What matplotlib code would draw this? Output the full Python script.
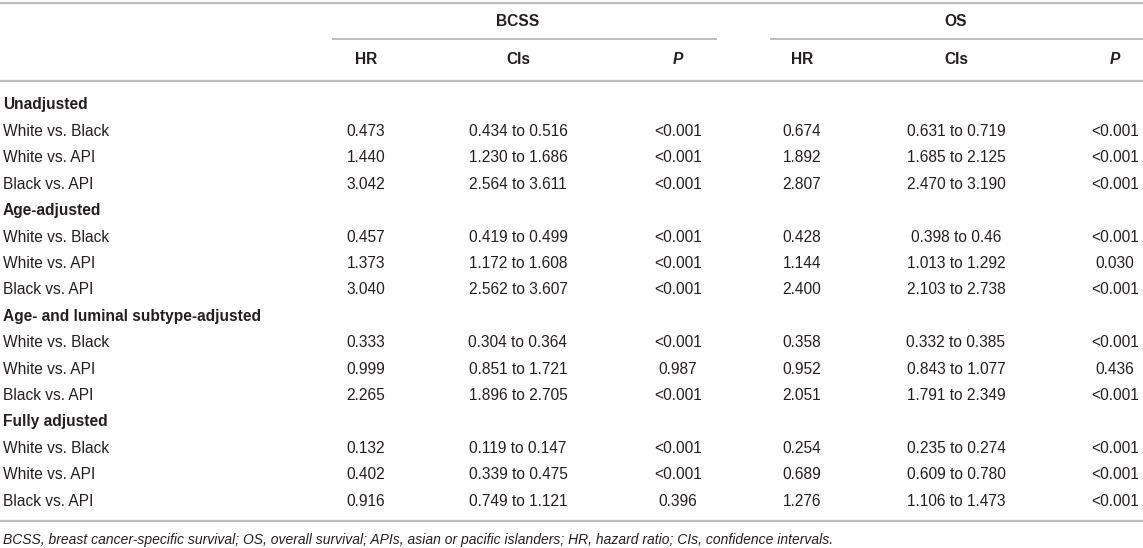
import matplotlib
matplotlib.use("Agg")
import matplotlib.pyplot as plt

plt.rcParams['font.family'] = ['Liberation Sans', 'DejaVu Sans']

# table data
groups = ["Unadjusted", "Age-adjusted", "Age- and luminal subtype-adjusted", "Fully adjusted"]
comparisons = ["White vs. Black", "White vs. API", "Black vs. API"]

bcss_hr = ["0.473", "1.440", "3.042",
           "0.457", "1.373", "3.040",
           "0.333", "0.999", "2.265",
           "0.132", "0.402", "0.916"]
bcss_ci = ["0.434 to 0.516", "1.230 to 1.686", "2.564 to 3.611",
           "0.419 to 0.499", "1.172 to 1.608", "2.562 to 3.607",
           "0.304 to 0.364", "0.851 to 1.721", "1.896 to 2.705",
           "0.119 to 0.147", "0.339 to 0.475", "0.749 to 1.121"]
bcss_p = ["<0.001", "<0.001", "<0.001",
          "<0.001", "<0.001", "<0.001",
          "<0.001", "0.987", "<0.001",
          "<0.001", "<0.001", "0.396"]
os_hr = ["0.674", "1.892", "2.807",
         "0.428", "1.144", "2.400",
         "0.358", "0.952", "2.051",
         "0.254", "0.689", "1.276"]
os_ci = ["0.631 to 0.719", "1.685 to 2.125", "2.470 to 3.190",
         "0.398 to 0.46", "1.013 to 1.292", "2.103 to 2.738",
         "0.332 to 0.385", "0.843 to 1.077", "1.791 to 2.349",
         "0.235 to 0.274", "0.609 to 0.780", "1.106 to 1.473"]
os_p = ["<0.001", "<0.001", "<0.001",
        "<0.001", "0.030", "<0.001",
        "<0.001", "0.436", "<0.001",
        "<0.001", "<0.001", "<0.001"]

col_names = ["HR", "CIs", "P", "HR", "CIs", "P"]
footnote = ("BCSS, breast cancer-specific survival; OS, overall survival; APIs, asian or pacific "
            "islanders; HR, hazard ratio; CIs, confidence intervals.")

W, H = 1143, 548
fig = plt.figure(figsize=(W / 100, H / 100), dpi=100)
ax = fig.add_axes([0, 0, 1, 1])
ax.set_xlim(0, W)
ax.set_ylim(H, 0)
ax.axis('off')

txt = '#231f20'
line_c = '#bdbdbd'
fs = 11.2

col_x = [366, 518, 678, 802, 956, 1115]

# rules
ax.plot([0, W], [3, 3], color=line_c, lw=1.6)
ax.plot([333, 716], [39, 39], color=line_c, lw=1.4)
ax.plot([771, W], [39, 39], color=line_c, lw=1.4)
ax.plot([0, W], [81, 81], color=line_c, lw=1.6)
ax.plot([0, W], [521, 521], color=line_c, lw=1.6)

# header
ax.text(518, 22, "BCSS", ha='center', va='center', fontsize=fs, fontweight='bold', color=txt)
ax.text(956, 22, "OS", ha='center', va='center', fontsize=fs, fontweight='bold', color=txt)
for x, name in zip(col_x, col_names):
    style = 'italic' if name == "P" else 'normal'
    ax.text(x, 60, name, ha='center', va='center', fontsize=fs, fontweight='bold',
            fontstyle=style, color=txt)

# body
y0 = 105
dy = 26.4
row = 0
for g, grp in enumerate(groups):
    y = y0 + row * dy
    ax.text(3, y, grp, ha='left', va='center', fontsize=fs, fontweight='bold', color=txt)
    row += 1
    for c, comp in enumerate(comparisons):
        i = g * 3 + c
        y = y0 + row * dy
        ax.text(3, y, comp, ha='left', va='center', fontsize=fs, color=txt)
        vals = [bcss_hr[i], bcss_ci[i], bcss_p[i], os_hr[i], os_ci[i], os_p[i]]
        for x, v in zip(col_x, vals):
            ax.text(x, y, v, ha='center', va='center', fontsize=fs, color=txt)
        row += 1

ax.text(3, 540, footnote, ha='left', va='center', fontsize=10.0, fontstyle='italic', color=txt)

fig.savefig("out.png", dpi=100)
